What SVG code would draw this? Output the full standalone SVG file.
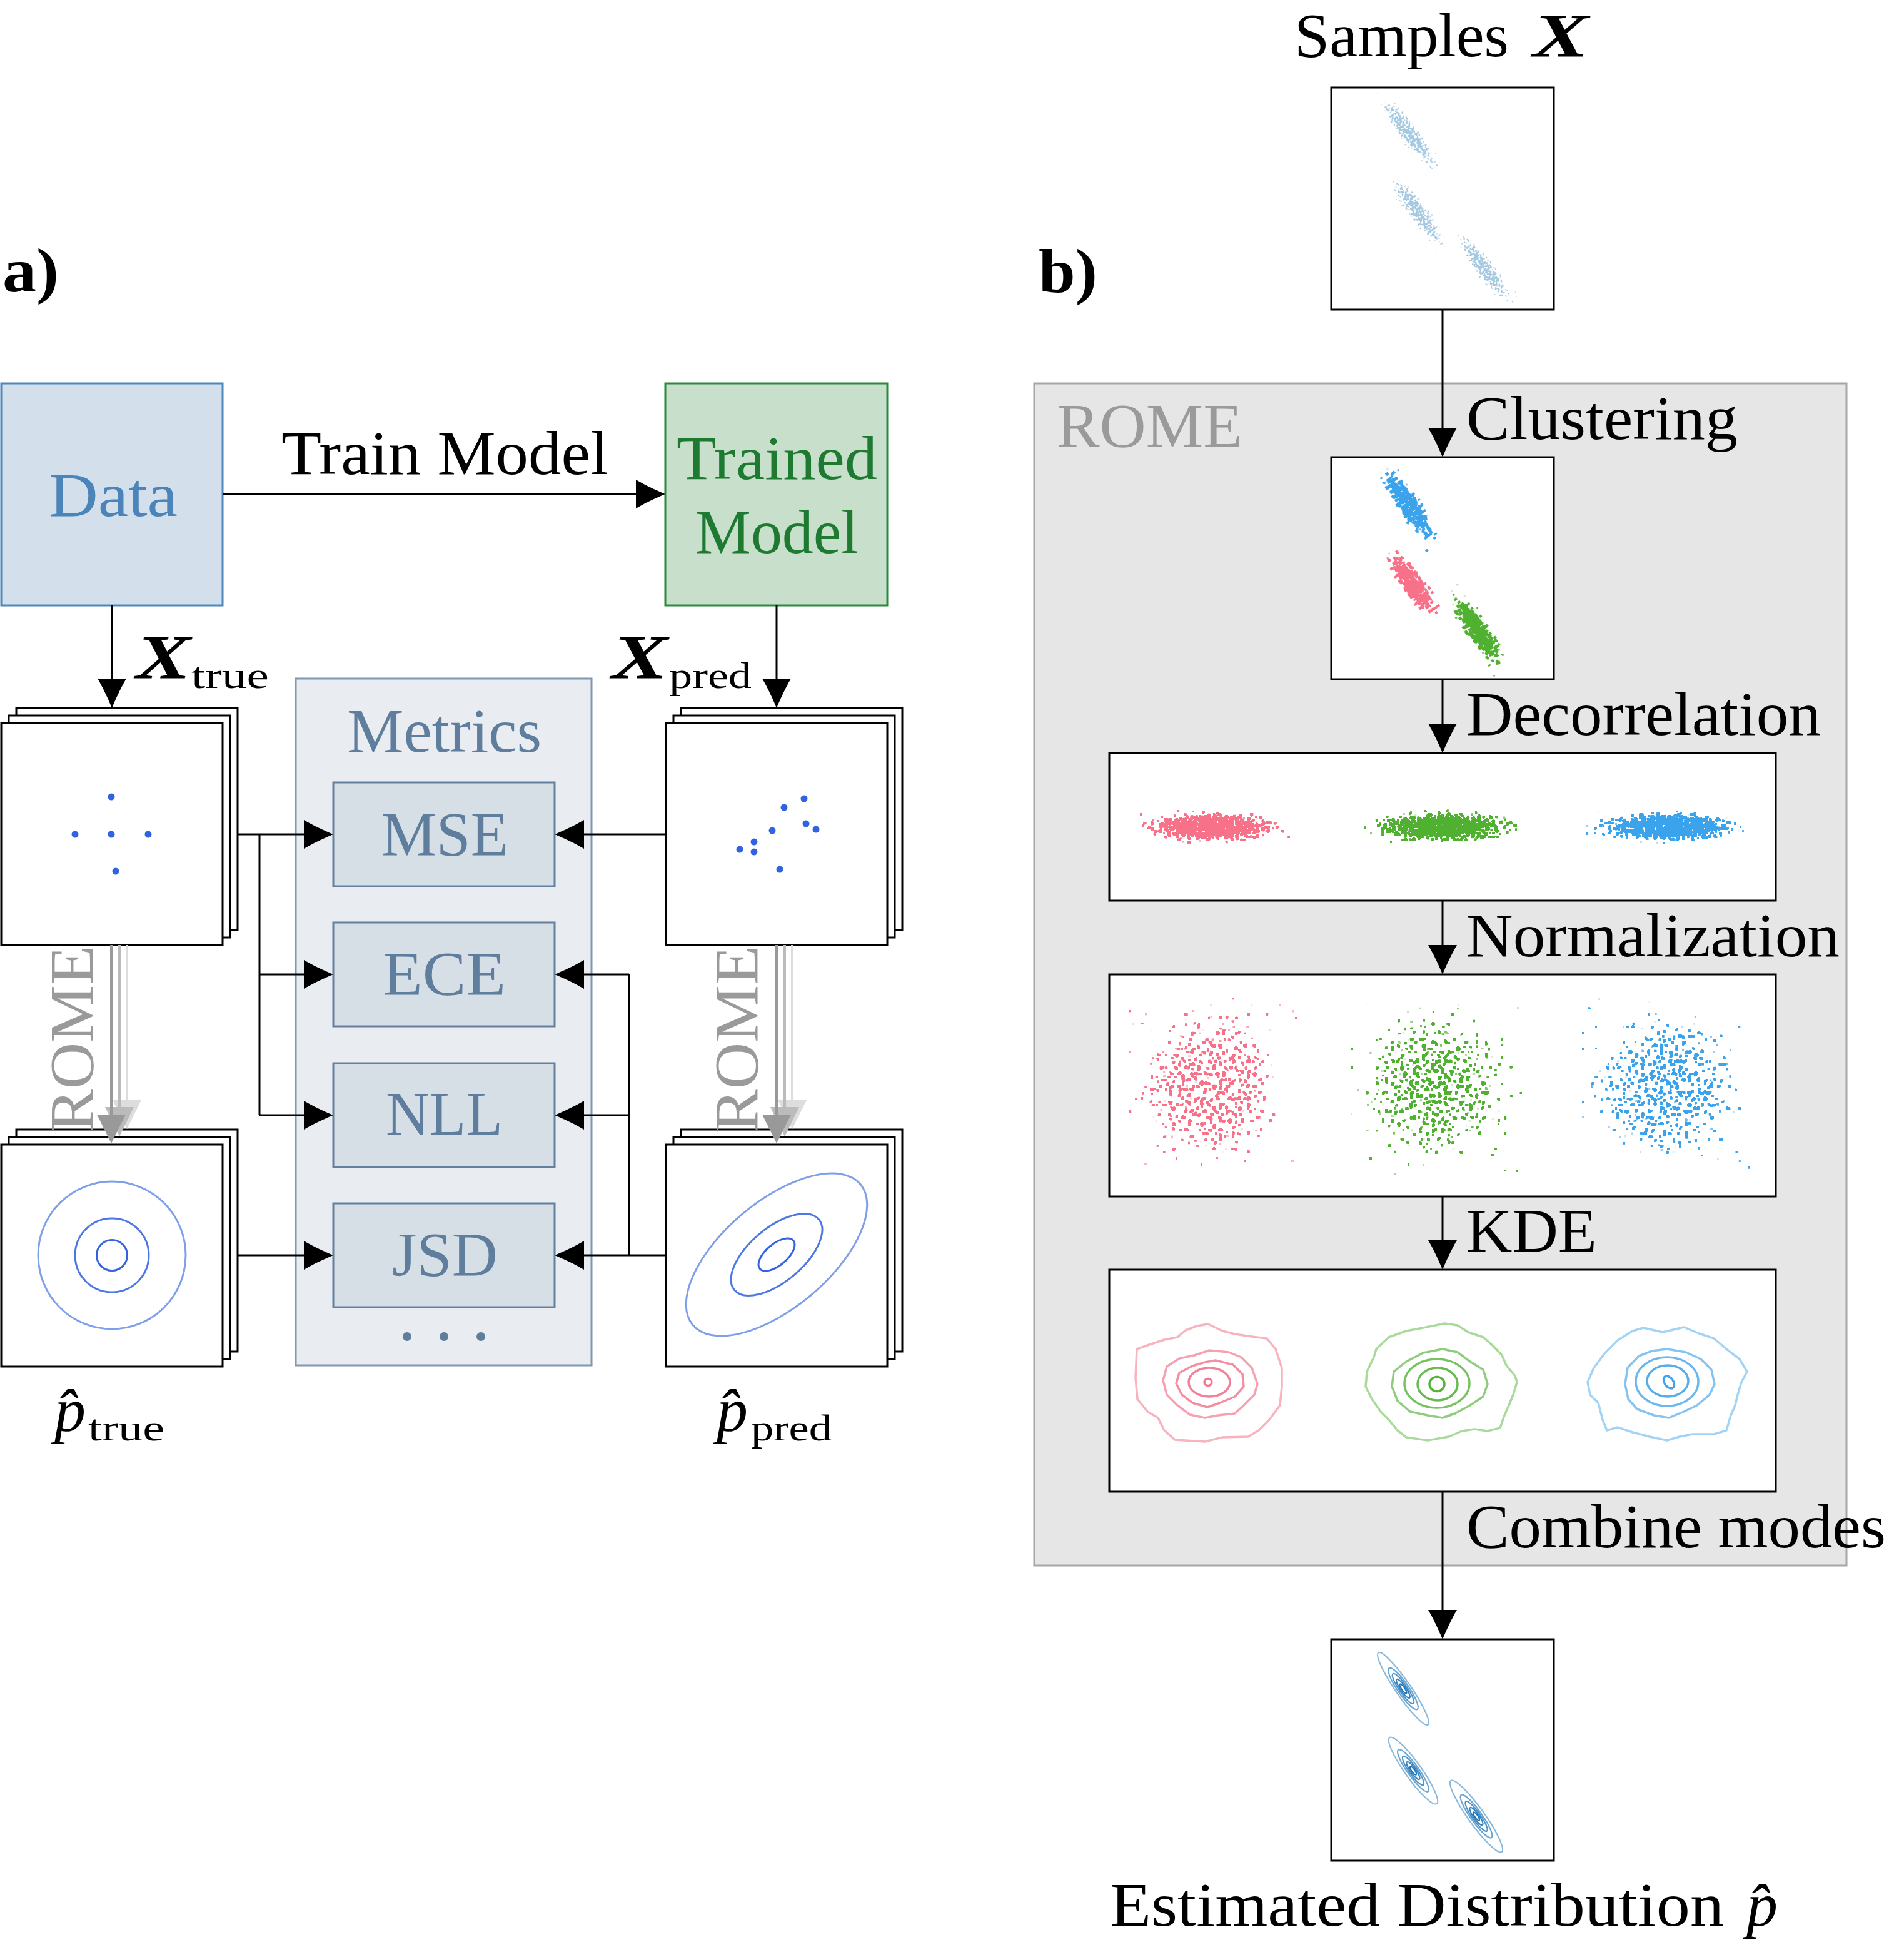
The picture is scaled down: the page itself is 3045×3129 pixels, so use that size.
<svg xmlns="http://www.w3.org/2000/svg" width="3045" height="3129" viewBox="0 0 3045 3129">
<style>
.t{font-family:"Liberation Serif","DejaVu Serif",serif;font-size:100px;fill:#000}
.bi{font-weight:bold;font-style:italic}
.box{fill:#fff;stroke:#000;stroke-width:3}
.conn{stroke:#000;stroke-width:3;fill:none}
.met{fill:#d6dee6;stroke:#64809e;stroke-width:3}
.mt{fill:#5f7d9c}
.rome{fill:#9a9a9a}
.c{fill:none;stroke-width:3.5;stroke-linejoin:round}
.fc{fill:none;stroke-width:2.2}
</style>
<defs>
<marker id="ah" viewBox="-37 -23 47 46" refX="0" refY="0" markerWidth="47" markerHeight="46" markerUnits="userSpaceOnUse" orient="auto">
<path d="M10,0 C-2,-5 -22,-14 -37,-23 L-37,23 C-22,14 -2,5 10,0 Z" fill="#000"/>
</marker>
<radialGradient id="dens">
<stop offset="0" stop-opacity="1"/>
<stop offset="0.4" stop-opacity="0.9"/>
<stop offset="0.6" stop-opacity="0.65"/>
<stop offset="0.8" stop-opacity="0.3"/>
<stop offset="1" stop-opacity="0"/>
</radialGradient>
<filter id="fDP" x="0" y="0" width="1" height="1" color-interpolation-filters="sRGB">
<feTurbulence type="fractalNoise" baseFrequency="0.22" numOctaves="1" seed="2" result="n"/>
<feComposite in="n" in2="SourceAlpha" operator="arithmetic" k2="3" k3="1.2" k4="-1.81" result="v"/>
<feComponentTransfer in="v" result="th"><feFuncA type="linear" slope="20" intercept="-10"/></feComponentTransfer>
<feMorphology in="th" operator="dilate" radius="0.8" result="d"/>
<feFlood flood-color="#f77189"/>
<feComposite in2="d" operator="in"/>
</filter>
<filter id="fDG" x="0" y="0" width="1" height="1" color-interpolation-filters="sRGB">
<feTurbulence type="fractalNoise" baseFrequency="0.22" numOctaves="1" seed="5" result="n"/>
<feComposite in="n" in2="SourceAlpha" operator="arithmetic" k2="3" k3="1.2" k4="-1.81" result="v"/>
<feComponentTransfer in="v" result="th"><feFuncA type="linear" slope="20" intercept="-10"/></feComponentTransfer>
<feMorphology in="th" operator="dilate" radius="0.8" result="d"/>
<feFlood flood-color="#50b131"/>
<feComposite in2="d" operator="in"/>
</filter>
<filter id="fDB" x="0" y="0" width="1" height="1" color-interpolation-filters="sRGB">
<feTurbulence type="fractalNoise" baseFrequency="0.22" numOctaves="1" seed="9" result="n"/>
<feComposite in="n" in2="SourceAlpha" operator="arithmetic" k2="3" k3="1.2" k4="-1.81" result="v"/>
<feComponentTransfer in="v" result="th"><feFuncA type="linear" slope="20" intercept="-10"/></feComponentTransfer>
<feMorphology in="th" operator="dilate" radius="0.8" result="d"/>
<feFlood flood-color="#3ba3ec"/>
<feComposite in2="d" operator="in"/>
</filter>
<filter id="fNP" x="0" y="0" width="1" height="1" color-interpolation-filters="sRGB">
<feTurbulence type="fractalNoise" baseFrequency="0.2" numOctaves="1" seed="11" result="n"/>
<feComposite in="n" in2="SourceAlpha" operator="arithmetic" k2="3" k3="0.54" k4="-1.84" result="v"/>
<feComponentTransfer in="v" result="th"><feFuncA type="linear" slope="20" intercept="-10"/></feComponentTransfer>
<feMorphology in="th" operator="dilate" radius="0.7" result="d"/>
<feFlood flood-color="#f77189"/>
<feComposite in2="d" operator="in"/>
</filter>
<filter id="fNG" x="0" y="0" width="1" height="1" color-interpolation-filters="sRGB">
<feTurbulence type="fractalNoise" baseFrequency="0.2" numOctaves="1" seed="13" result="n"/>
<feComposite in="n" in2="SourceAlpha" operator="arithmetic" k2="3" k3="0.54" k4="-1.84" result="v"/>
<feComponentTransfer in="v" result="th"><feFuncA type="linear" slope="20" intercept="-10"/></feComponentTransfer>
<feMorphology in="th" operator="dilate" radius="0.7" result="d"/>
<feFlood flood-color="#50b131"/>
<feComposite in2="d" operator="in"/>
</filter>
<filter id="fNB" x="0" y="0" width="1" height="1" color-interpolation-filters="sRGB">
<feTurbulence type="fractalNoise" baseFrequency="0.2" numOctaves="1" seed="17" result="n"/>
<feComposite in="n" in2="SourceAlpha" operator="arithmetic" k2="3" k3="0.54" k4="-1.84" result="v"/>
<feComponentTransfer in="v" result="th"><feFuncA type="linear" slope="20" intercept="-10"/></feComponentTransfer>
<feMorphology in="th" operator="dilate" radius="0.7" result="d"/>
<feFlood flood-color="#3ba3ec"/>
<feComposite in2="d" operator="in"/>
</filter>
<filter id="fS" x="0" y="0" width="1" height="1" color-interpolation-filters="sRGB">
<feTurbulence type="fractalNoise" baseFrequency="0.3" numOctaves="1" seed="21" result="n"/>
<feComposite in="n" in2="SourceAlpha" operator="arithmetic" k2="3" k3="1.1" k4="-1.81" result="v"/>
<feComponentTransfer in="v" result="th"><feFuncA type="linear" slope="20" intercept="-10"/></feComponentTransfer>
<feFlood flood-color="#1f77b4" flood-opacity="0.4"/>
<feComposite in2="th" operator="in"/>
</filter>
</defs>
<rect width="3045" height="3129" fill="#fff"/>

<!-- panel labels -->
<text class="t" x="4" y="466" font-weight="bold" textLength="90" lengthAdjust="spacingAndGlyphs">a)</text>
<text class="t" x="1661" y="467" font-weight="bold" textLength="94" lengthAdjust="spacingAndGlyphs">b)</text>

<!-- ===== Panel a ===== -->
<g id="data">
<rect x="2" y="613" width="354" height="355" fill="#d3e0ec" stroke="#4d88bc" stroke-width="3"/>
<text class="t" x="78" y="825" style="fill:#4a84b8" textLength="206" lengthAdjust="spacingAndGlyphs">Data</text>
</g>
<g id="trained-model">
<rect x="1064" y="613" width="355" height="355" fill="#c8dfcc" stroke="#2a8a3c" stroke-width="3"/>
<text class="t" x="1082" y="766" style="fill:#1f7a31" textLength="321" lengthAdjust="spacingAndGlyphs">Trained</text>
<text class="t" x="1112" y="884" style="fill:#1f7a31" textLength="261" lengthAdjust="spacingAndGlyphs">Model</text>
</g>

<g id="x-true">
<rect class="box" x="26" y="1132" width="354" height="355"/>
<rect class="box" x="14" y="1144" width="354" height="355"/>
<rect class="box" x="2" y="1156" width="354" height="355"/>
<g fill="#3162e0">
<circle cx="178" cy="1274" r="5.5"/><circle cx="120" cy="1334" r="5.5"/><circle cx="178" cy="1334" r="5.5"/><circle cx="237" cy="1334" r="5.5"/><circle cx="185" cy="1393" r="5.5"/>
</g>
</g>
<g id="x-pred">
<rect class="box" x="1089" y="1132" width="354" height="355"/>
<rect class="box" x="1077" y="1144" width="354" height="355"/>
<rect class="box" x="1065" y="1156" width="354" height="355"/>
<g fill="#3162e0">
<circle cx="1286" cy="1277" r="5.5"/><circle cx="1254" cy="1291" r="5.5"/><circle cx="1289" cy="1317" r="5.5"/><circle cx="1305" cy="1326" r="5.5"/><circle cx="1235" cy="1328" r="5.5"/><circle cx="1206" cy="1346" r="5.5"/><circle cx="1183" cy="1358" r="5.5"/><circle cx="1206" cy="1362" r="5.5"/><circle cx="1247" cy="1390" r="5.5"/>
</g>
</g>

<g id="p-true">
<rect class="box" x="26" y="1806" width="354" height="355"/>
<rect class="box" x="14" y="1818" width="354" height="355"/>
<rect class="box" x="2" y="1830" width="354" height="355"/>
<circle cx="179" cy="2007" r="118" fill="none" stroke="#7e9fea" stroke-width="3"/>
<circle cx="179" cy="2007" r="59" fill="none" stroke="#4d78e3" stroke-width="3"/>
<circle cx="179" cy="2007" r="24.5" fill="none" stroke="#3563e0" stroke-width="3"/>
</g>
<g id="p-pred">
<rect class="box" x="1089" y="1806" width="354" height="355"/>
<rect class="box" x="1077" y="1818" width="354" height="355"/>
<rect class="box" x="1065" y="1830" width="354" height="355"/>
<g transform="translate(1242,2006) rotate(-40)" fill="none" stroke-width="3">
<ellipse rx="175" ry="85" stroke="#7e9fea"/>
<ellipse rx="88" ry="43" stroke="#4d78e3"/>
<ellipse rx="35" ry="17" stroke="#3563e0"/>
</g>
</g>

<g id="metrics">
<rect x="473" y="1085" width="473" height="1098" fill="#e9edf1" stroke="#7f97b0" stroke-width="3"/>
<text class="t mt" x="555" y="1202" textLength="311" lengthAdjust="spacingAndGlyphs">Metrics</text>
<g fill="#5f7d9c"><circle cx="651" cy="2137" r="7"/><circle cx="710" cy="2137" r="7"/><circle cx="769" cy="2137" r="7"/></g>
</g>
<g id="mse"><rect class="met" x="533" y="1251" width="354" height="166"/><text class="t mt" x="610" y="1367" textLength="203" lengthAdjust="spacingAndGlyphs">MSE</text></g>
<g id="ece"><rect class="met" x="533" y="1475" width="354" height="166"/><text class="t mt" x="612" y="1590" textLength="197" lengthAdjust="spacingAndGlyphs">ECE</text></g>
<g id="nll"><rect class="met" x="533" y="1700" width="354" height="166"/><text class="t mt" x="617" y="1814" textLength="187" lengthAdjust="spacingAndGlyphs">NLL</text></g>
<g id="jsd"><rect class="met" x="533" y="1924" width="354" height="166"/><text class="t mt" x="627" y="2039" textLength="169" lengthAdjust="spacingAndGlyphs">JSD</text></g>

<!-- labels -->
<text class="t" x="450" y="758" textLength="523" lengthAdjust="spacingAndGlyphs">Train Model</text>
<text class="t bi" x="217" y="1084" textLength="88" lengthAdjust="spacingAndGlyphs">X</text>
<text class="t" x="306" y="1100" style="font-size:60px" textLength="124" lengthAdjust="spacingAndGlyphs">true</text>
<text class="t bi" x="978" y="1084" textLength="90" lengthAdjust="spacingAndGlyphs">X</text>
<text class="t" x="1070" y="1100" style="font-size:60px" textLength="132" lengthAdjust="spacingAndGlyphs">pred</text>
<text class="t" x="87" y="2288" font-style="italic">p&#x302;</text>
<text class="t" x="141" y="2303" style="font-size:60px" textLength="122" lengthAdjust="spacingAndGlyphs">true</text>
<text class="t" x="1146" y="2288" font-style="italic">p&#x302;</text>
<text class="t" x="1201" y="2303" style="font-size:60px" textLength="129" lengthAdjust="spacingAndGlyphs">pred</text>

<!-- ROME arrows panel a -->
<g id="rome-true">
<line x1="203" y1="1511" x2="203" y2="1765" stroke="#dddddd" stroke-width="4"/>
<path d="M180,1759 L226,1759 L203,1805 Z" fill="#dddddd"/>
<line x1="191" y1="1511" x2="191" y2="1776" stroke="#bbbbbb" stroke-width="4"/>
<path d="M168,1770 L214,1770 L191,1817 Z" fill="#bbbbbb"/>
<line x1="178" y1="1511" x2="178" y2="1788" stroke="#999999" stroke-width="4"/>
<path d="M155,1782 L201,1782 L178,1828 Z" fill="#999999"/>
<text class="t rome" transform="translate(148,1810) rotate(-90)" textLength="298" lengthAdjust="spacingAndGlyphs">ROME</text>
</g>
<g id="rome-pred">
<line x1="1267" y1="1511" x2="1267" y2="1765" stroke="#dddddd" stroke-width="4"/>
<path d="M1244,1759 L1290,1759 L1267,1805 Z" fill="#dddddd"/>
<line x1="1255" y1="1511" x2="1255" y2="1776" stroke="#bbbbbb" stroke-width="4"/>
<path d="M1232,1770 L1278,1770 L1255,1817 Z" fill="#bbbbbb"/>
<line x1="1242" y1="1511" x2="1242" y2="1788" stroke="#999999" stroke-width="4"/>
<path d="M1219,1782 L1265,1782 L1242,1828 Z" fill="#999999"/>
<text class="t rome" transform="translate(1211,1810) rotate(-90)" textLength="298" lengthAdjust="spacingAndGlyphs">ROME</text>
</g>

<!-- ===== Panel b ===== -->
<g id="rome-box">
<rect x="1654" y="613" width="1299" height="1890" fill="#e6e6e6" stroke="#a6a6a6" stroke-width="3"/>
<text class="t rome" x="1690" y="714" textLength="297" lengthAdjust="spacingAndGlyphs">ROME</text>
</g>

<g id="samples">
<text class="t" x="2070" y="90" textLength="343" lengthAdjust="spacingAndGlyphs">Samples</text>
<text class="t bi" x="2451" y="90" textLength="90" lengthAdjust="spacingAndGlyphs">X</text>
<rect class="box" x="2129" y="140" width="356" height="355"/>
<ellipse cx="2253" cy="213" rx="84" ry="18" transform="rotate(53 2253 213)" fill="url(#dens)" filter="url(#fS)"/>
<ellipse cx="2268" cy="339" rx="80" ry="18" transform="rotate(53 2268 339)" fill="url(#dens)" filter="url(#fS)"/>
<ellipse cx="2373" cy="428" rx="78" ry="18" transform="rotate(53 2373 428)" fill="url(#dens)" filter="url(#fS)"/>
</g>

<g id="clustering">
<rect class="box" x="2129" y="731" width="356" height="355"/>
<ellipse cx="2252" cy="807" rx="82" ry="21" transform="rotate(55 2252 807)" fill="url(#dens)" filter="url(#fDB)"/>
<ellipse cx="2259" cy="934" rx="76" ry="21" transform="rotate(55 2259 934)" fill="url(#dens)" filter="url(#fDP)"/>
<ellipse cx="2363" cy="1008" rx="80" ry="21" transform="rotate(55 2363 1008)" fill="url(#dens)" filter="url(#fDG)"/>
</g>

<g id="decorrelation">
<rect class="box" x="1774" y="1204" width="1066" height="236"/>
<ellipse cx="1937" cy="1322" rx="128" ry="28" fill="url(#dens)" filter="url(#fDP)"/>
<ellipse cx="2307" cy="1322" rx="135" ry="28" fill="url(#dens)" filter="url(#fDG)"/>
<ellipse cx="2668" cy="1322" rx="132" ry="28" fill="url(#dens)" filter="url(#fDB)"/>
</g>

<g id="normalization">
<rect class="box" x="1774" y="1558" width="1066" height="355"/>
<ellipse cx="1936" cy="1736" rx="138" ry="140" fill="url(#dens)" filter="url(#fNP)"/>
<ellipse cx="2297" cy="1738" rx="138" ry="140" fill="url(#dens)" filter="url(#fNG)"/>
<ellipse cx="2668" cy="1736" rx="138" ry="140" fill="url(#dens)" filter="url(#fNB)"/>
</g>

<g id="kde">
<rect class="box" x="1774" y="2030" width="1066" height="355"/>
<path class="c" stroke="#f9b3bf" d="M1932,2117 L1955,2128 L1975,2133 L2002,2137 L2026,2140 L2040,2157 L2050,2187 L2050,2217 L2047,2247 L2030,2270 L2013,2287 L1996,2297 L1955,2298 L1927,2305 L1879,2302 L1862,2287 L1852,2267 L1835,2257 L1819,2237 L1816,2203 L1818,2157 L1838,2150 L1862,2142 L1883,2138 L1896,2127 L1914,2120 Z"/>
<path class="c" stroke="#f6a0b0" d="M1934,2159 L1965,2162 L1985,2170 L2002,2187 L2011,2213 L2006,2230 L1989,2247 L1975,2260 L1948,2263 L1927,2267 L1903,2262 L1883,2247 L1866,2230 L1860,2207 L1866,2185 L1886,2172 L1910,2167 Z"/>
<path class="c" stroke="#f48fa2" d="M1944,2175 L1972,2182 L1987,2197 L1989,2217 L1975,2233 L1951,2243 L1931,2250 L1907,2243 L1890,2230 L1881,2212 L1886,2195 L1907,2184 L1927,2178 Z"/>
<ellipse class="c" stroke="#f38197" cx="1934" cy="2210" rx="33" ry="23"/>
<ellipse class="c" stroke="#f47590" cx="1932" cy="2210" rx="6" ry="5.5"/>
<path class="c" stroke="#a9d99b" d="M2310,2116 L2331,2119 L2348,2130 L2372,2138 L2389,2153 L2402,2167 L2409,2183 L2423,2200 L2426,2210 L2420,2230 L2413,2247 L2406,2263 L2399,2283 L2379,2288 L2358,2285 L2338,2288 L2317,2297 L2283,2303 L2249,2298 L2235,2287 L2221,2270 L2208,2257 L2194,2237 L2184,2217 L2186,2193 L2197,2170 L2201,2157 L2221,2138 L2249,2128 L2276,2123 Z"/>
<path class="c" stroke="#8fcc7e" d="M2307,2157 L2331,2162 L2351,2177 L2372,2190 L2379,2213 L2372,2233 L2351,2247 L2327,2260 L2307,2267 L2283,2263 L2255,2257 L2235,2240 L2226,2217 L2229,2193 L2249,2177 L2276,2163 Z"/>
<ellipse class="c" stroke="#78c264" cx="2298" cy="2212" rx="52" ry="39"/>
<ellipse class="c" stroke="#66ba50" cx="2299" cy="2213" rx="32" ry="26"/>
<ellipse class="c" stroke="#55b33c" cx="2298" cy="2213" rx="12" ry="11.5"/>
<path class="c" stroke="#a3d3f5" d="M2628,2123 L2659,2130 L2693,2122 L2717,2132 L2741,2140 L2761,2157 L2782,2173 L2794,2193 L2785,2210 L2779,2230 L2775,2247 L2768,2263 L2761,2287 L2741,2293 L2707,2293 L2686,2297 L2666,2303 L2638,2297 L2611,2290 L2587,2282 L2570,2287 L2563,2270 L2556,2243 L2543,2230 L2539,2210 L2549,2187 L2567,2163 L2587,2143 L2611,2128 Z"/>
<path class="c" stroke="#85c4f1" d="M2666,2157 L2696,2162 L2720,2173 L2737,2190 L2742,2213 L2734,2230 L2714,2247 L2693,2257 L2669,2267 L2645,2263 L2618,2253 L2604,2237 L2599,2213 L2603,2187 L2621,2168 L2642,2160 Z"/>
<ellipse class="c" stroke="#6ab8ef" cx="2666" cy="2209" rx="50" ry="39"/>
<ellipse class="c" stroke="#55adec" cx="2667" cy="2208" rx="33" ry="25"/>
<ellipse class="c" stroke="#42a4eb" cx="2669" cy="2210" rx="11" ry="7" transform="rotate(55 2669 2210)"/>
</g>

<g id="estimated">
<rect class="box" x="2129" y="2621" width="356" height="354"/>
<g transform="translate(2244,2700) rotate(55.5)">
<ellipse class="fc" rx="70" ry="12" stroke="#8ab9dc"/><ellipse class="fc" rx="40" ry="9" stroke="#6aa5d2"/><ellipse class="fc" rx="29" ry="6.5" stroke="#4d93c8"/><ellipse class="fc" rx="18" ry="4.5" stroke="#3584c0"/><ellipse class="fc" rx="9" ry="2.5" stroke="#2376b6"/>
</g>
<g transform="translate(2260,2831) rotate(54.5)">
<ellipse class="fc" rx="65" ry="13" stroke="#8ab9dc"/><ellipse class="fc" rx="41" ry="9" stroke="#6aa5d2"/><ellipse class="fc" rx="28" ry="6.5" stroke="#4d93c8"/><ellipse class="fc" rx="17" ry="4.5" stroke="#3584c0"/><ellipse class="fc" rx="8" ry="2.5" stroke="#2376b6"/>
</g>
<g transform="translate(2361,2904) rotate(54.5)">
<ellipse class="fc" rx="70" ry="13" stroke="#8ab9dc"/><ellipse class="fc" rx="42" ry="9" stroke="#6aa5d2"/><ellipse class="fc" rx="29" ry="6.5" stroke="#4d93c8"/><ellipse class="fc" rx="17" ry="4.5" stroke="#3584c0"/><ellipse class="fc" rx="8" ry="2.5" stroke="#2376b6"/>
</g>
<text class="t" x="1775" y="3079" textLength="982" lengthAdjust="spacingAndGlyphs">Estimated Distribution</text>
<text class="t" x="2793" y="3079" font-style="italic">p&#x302;</text>
</g>

<g id="step-labels">
<text class="t" x="2345" y="702" textLength="434" lengthAdjust="spacingAndGlyphs">Clustering</text>
<text class="t" x="2345" y="1175" textLength="567" lengthAdjust="spacingAndGlyphs">Decorrelation</text>
<text class="t" x="2345" y="1529" textLength="597" lengthAdjust="spacingAndGlyphs">Normalization</text>
<text class="t" x="2345" y="2001" textLength="209" lengthAdjust="spacingAndGlyphs">KDE</text>
<text class="t" x="2345" y="2474" textLength="671" lengthAdjust="spacingAndGlyphs">Combine modes</text>
</g>

<g id="connectors" class="conn">
<path class="conn" d="M356,790 H1054" marker-end="url(#ah)"/>
<path class="conn" d="M179,968 V1122" marker-end="url(#ah)"/>
<path class="conn" d="M1242,968 V1122" marker-end="url(#ah)"/>
<path class="conn" d="M380,1334 H523" marker-end="url(#ah)"/>
<path class="conn" d="M415,1334 V1783"/>
<path class="conn" d="M415,1558 H523" marker-end="url(#ah)"/>
<path class="conn" d="M415,1783 H523" marker-end="url(#ah)"/>
<path class="conn" d="M380,2007 H523" marker-end="url(#ah)"/>
<path class="conn" d="M1065,1334 H897" marker-end="url(#ah)"/>
<path class="conn" d="M1006,1558 V2007"/>
<path class="conn" d="M1006,1558 H897" marker-end="url(#ah)"/>
<path class="conn" d="M1006,1783 H897" marker-end="url(#ah)"/>
<path class="conn" d="M1065,2007 H897" marker-end="url(#ah)"/>
<path class="conn" d="M2307,495 V721" marker-end="url(#ah)"/>
<path class="conn" d="M2307,1086 V1194" marker-end="url(#ah)"/>
<path class="conn" d="M2307,1440 V1548" marker-end="url(#ah)"/>
<path class="conn" d="M2307,1913 V2020" marker-end="url(#ah)"/>
<path class="conn" d="M2307,2385 V2611" marker-end="url(#ah)"/>
</g>
</svg>
